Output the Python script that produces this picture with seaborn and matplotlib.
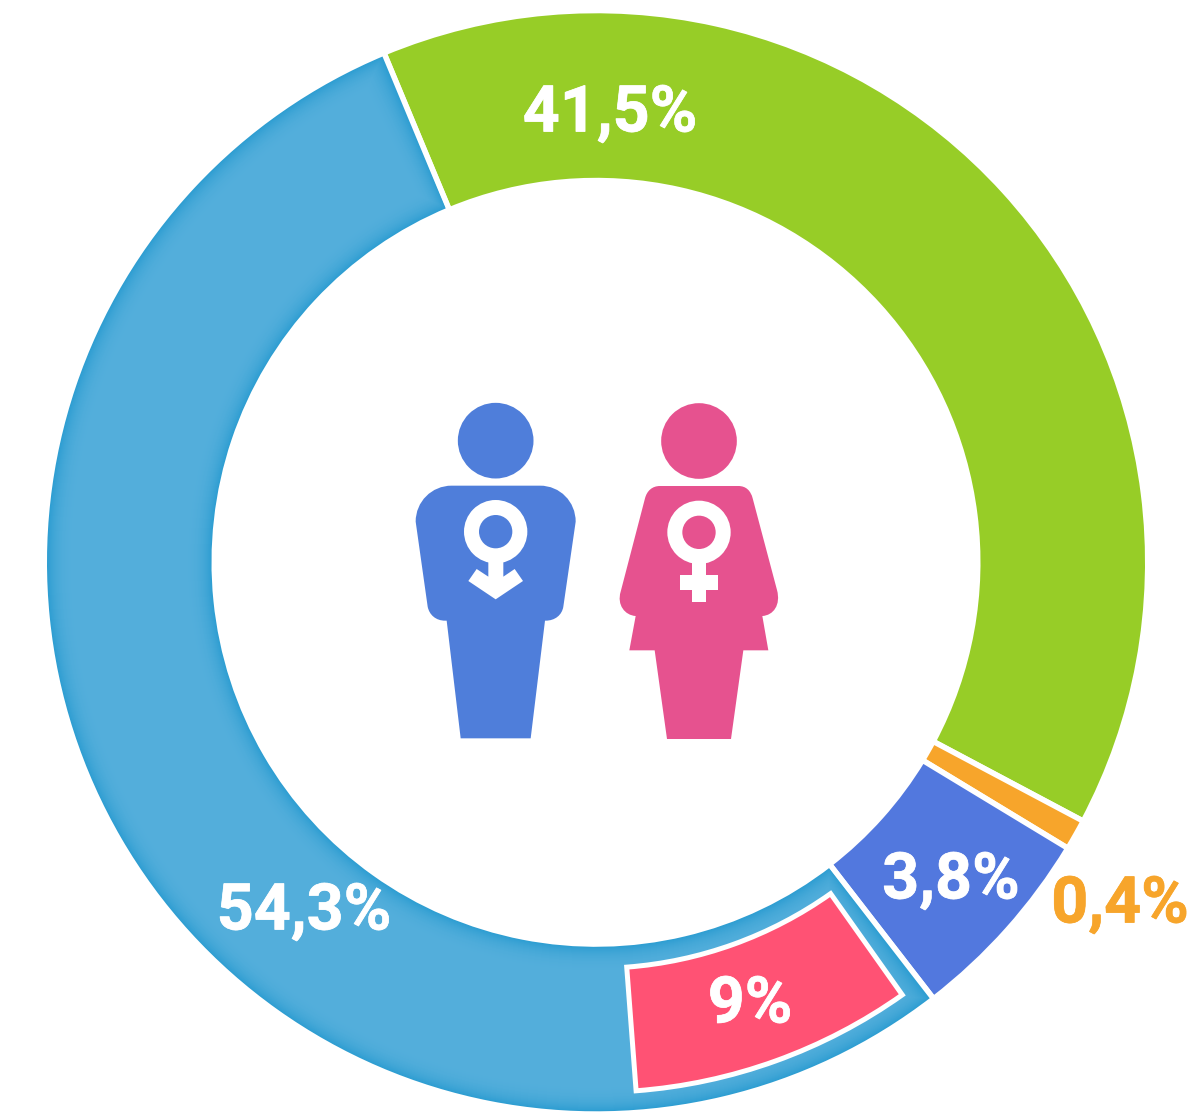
import numpy as np
import pandas as pd
import seaborn as sns
import matplotlib.pyplot as plt
import matplotlib.patheffects as pe
from matplotlib.patches import Wedge, Circle, PathPatch, Polygon
from matplotlib.path import Path

# ring shares as drawn (they differ a bit from the printed labels)
segments = ['green', 'orange', 'blue', 'lightblue']
shares = [39.05, 0.9, 5.85, 54.2]
labels = ['41,5%', '0,4%', '3,8%', '54,3%']
inset_share = 8.6
inset_label = '9%'

colors = sns.color_palette(['#97cd27', '#f7a52b', '#5278de', '#2f9ed2'])
inset_color = '#ff5274'
man_color = '#4f7eda'
woman_color = '#e6528f'

df = pd.DataFrame({'segment': segments, 'share': shares, 'label': labels})

sns.set_theme(style='white')
plt.rcParams['font.family'] = ['Roboto', 'DejaVu Sans']

fig, ax = plt.subplots(figsize=(11.93, 11.12), dpi=100)
ax.set_position([0, 0, 1, 1])

cx, cy = 596, 562.3
r_out, r_in = 549, 384.5
gap = 5.5 * 72 / 100

# y axis is flipped, so counterclockwise here is clockwise on screen
wedges, _ = ax.pie(df['share'], colors=colors, center=(cx, cy), radius=r_out + 2.75,
                   startangle=-112.6, counterclock=True, frame=True,
                   wedgeprops={'width': r_out - r_in + 5.5, 'edgecolor': 'white', 'linewidth': gap})
ax.set_xlim(0, 1193)
ax.set_ylim(1112, 0)
ax.axis('off')

# soft darker rim on the big segment
big = wedges[3]
c_dark = np.array(sns.color_palette(['#2f9ed2'])[0])
c_mid = np.array(sns.color_palette(['#53aedb'])[0])
r_mid = (r_out + r_in) / 2
for d in range(1, 31):
    t = 1 - (1 - d / 30) ** 3
    ang = (2.75 + d) / r_mid * 180 / np.pi
    ax.add_patch(Wedge((cx, cy), r_out - d, big.theta1 + ang, big.theta2 - ang,
                       width=r_out - r_in - 2 * d, facecolor=c_dark + (c_mid - c_dark) * t,
                       edgecolor='none', zorder=2))

# inset piece inside the big segment
inset_start = 54.7
inset_patch = Wedge((cx, cy), 530, inset_start, inset_start + inset_share * 3.6,
                    width=124, facecolor=inset_color, edgecolor='white',
                    linewidth=5 * 72 / 100, joinstyle='miter', zorder=3)
ax.add_patch(inset_patch)

# text labels
label_pos = {'41,5%': (610, 114), '0,4%': (1120, 905), '3,8%': (951, 881), '54,3%': (304, 912)}
label_col = {'41,5%': 'white', '0,4%': colors[1], '3,8%': 'white', '54,3%': 'white'}
for lab in df['label']:
    ax.text(*label_pos[lab], lab, color=label_col[lab], fontsize=46.5, fontweight='bold',
            ha='center', va='center', zorder=5,
            path_effects=[pe.withStroke(linewidth=0.5, foreground=label_col[lab])])
ax.text(750, 1005, inset_label, color='white', fontsize=46.5, fontweight='bold',
        ha='center', va='center', zorder=5,
        path_effects=[pe.withStroke(linewidth=0.5, foreground='white')])


# icons, traced in a 3x crop whose corner is at (400, 390)
def px(pts):
    return [(400 + x / 3, 390 + y / 3) for x, y in pts]


def shape(pts, codes, color):
    ax.add_patch(PathPatch(Path(px(pts), codes), facecolor=color, edgecolor='none', zorder=4))


M, L, C4, Z = Path.MOVETO, Path.LINETO, Path.CURVE4, Path.CLOSEPOLY


def ring(x, y, color):
    ax.add_patch(Circle(px([(x, y)])[0], 95 / 3, facecolor='white', edgecolor='none', zorder=5))
    ax.add_patch(Circle(px([(x, y)])[0], 50 / 3, facecolor=color, edgecolor='none', zorder=6))


# man
ax.add_patch(Circle(px([(287, 152)])[0], 113.5 / 3, facecolor=man_color, edgecolor='none', zorder=4))
shape([(155, 287), (420, 287), (480, 287), (527, 335), (527, 395), (490, 650),
       (486, 675), (465, 692), (437, 692), (435, 692), (392, 1045), (182, 1045), (140, 692),
       (135, 692), (108, 692), (88, 675), (83, 650), (47, 395), (47, 335), (95, 287), (155, 287),
       (155, 287)],
      [M, L, C4, C4, C4, L, C4, C4, C4, L, L, L, L, L, C4, C4, C4, L, C4, C4, C4, Z], man_color)
ax.add_patch(Polygon(px([(205, 573), (230, 537), (265, 560), (265, 505), (310, 505), (310, 560),
                         (344, 537), (369, 573), (287, 628)]),
                     facecolor='white', edgecolor='none', zorder=5))
ring(287, 425, man_color)

# woman
ax.add_patch(Circle(px([(897, 153)])[0], 113.5 / 3, facecolor=woman_color, edgecolor='none', zorder=4))
shape([(780, 288), (1015, 288), (1038, 288), (1052, 302), (1058, 325), (1131, 600),
       (1143, 645), (1120, 676), (1087, 678), (1105, 781), (1030, 781), (993, 1047), (801, 1047),
       (764, 781), (688, 781), (707, 678), (675, 676), (650, 645), (662, 605), (735, 325),
       (741, 302), (757, 288), (780, 288), (780, 288)],
      [M, L, C4, C4, C4, L, C4, C4, C4, L, L, L, L, L, L, L, C4, C4, C4, L, C4, C4, C4, Z],
      woman_color)
ax.add_patch(Polygon(px([(875, 505), (919, 505), (919, 554), (955, 554), (955, 599), (919, 599),
                         (919, 635), (875, 635), (875, 599), (840, 599), (840, 554), (875, 554)]),
                     facecolor='white', edgecolor='none', zorder=5))
ring(897, 427, woman_color)

fig.savefig('out.png', dpi=100, facecolor='white')
